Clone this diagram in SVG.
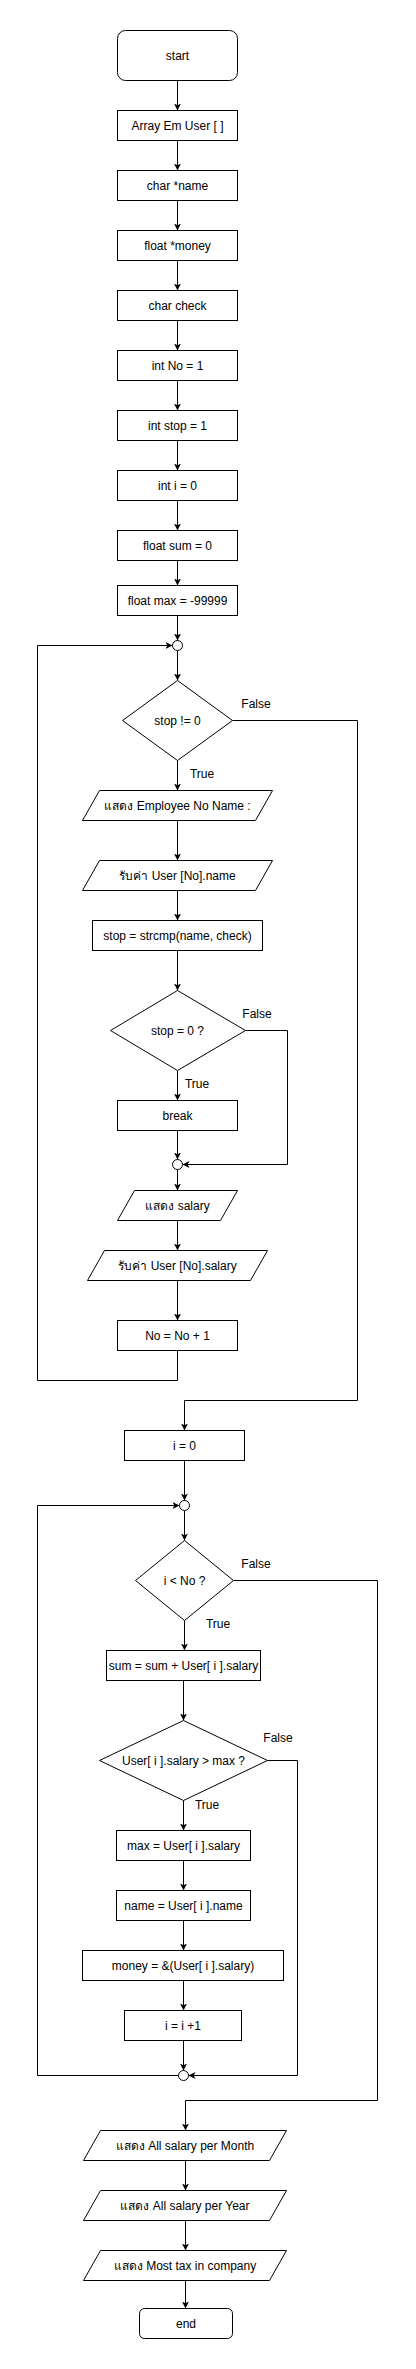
<svg xmlns="http://www.w3.org/2000/svg" width="416" height="2369" viewBox="0 0 416 2369">
<style>
.n{fill:#fff;stroke:#000;stroke-width:1}
.t{font-family:"Liberation Sans",Arial,sans-serif;font-size:12px;fill:#000;text-anchor:middle}
.c{fill:none;stroke:#000;stroke-width:1}
.a{fill:none;stroke:#000;stroke-width:1;marker-end:url(#arr)}
</style>
<defs>
<marker id="arr" markerUnits="userSpaceOnUse" markerWidth="8" markerHeight="8" refX="7" refY="3.5" orient="auto">
<path d="M0,0 L7,3.5 L0,7 L1.8,3.5 z" fill="#000"/>
</marker>
</defs>
<rect width="416" height="2369" fill="#fff"/>
<g id="connectors">
<path class="a" d="M177.5,80.5 V110.5"/>
<path class="a" d="M177.5,140.5 V170.5"/>
<path class="a" d="M177.5,200.5 V230.5"/>
<path class="a" d="M177.5,260.5 V290.5"/>
<path class="a" d="M177.5,320.5 V350.5"/>
<path class="a" d="M177.5,380.5 V410.5"/>
<path class="a" d="M177.5,440.5 V470.5"/>
<path class="a" d="M177.5,500.5 V530.5"/>
<path class="a" d="M177.5,560.5 V585.5"/>
<path class="a" d="M177.5,615.5 V640.5"/>
<path class="a" d="M177.5,650.5 V680.5"/>
<path class="a" d="M177.5,760.5 V790.5"/>
<path class="a" d="M177.5,820.5 V860.5"/>
<path class="a" d="M177.5,890.5 V920.5"/>
<path class="a" d="M177.5,950.5 V990.5"/>
<path class="a" d="M177.5,1070.5 V1100.5"/>
<path class="a" d="M177.5,1130.5 V1159.5"/>
<path class="a" d="M177.5,1169.5 V1190.5"/>
<path class="a" d="M177.5,1220.5 V1250.5"/>
<path class="a" d="M177.5,1280.5 V1320.5"/>
<path class="a" d="M177.5,1350.5 V1380.5 H37.5 V645.5 H172.5"/>
<path class="a" d="M232.5,720.5 H357.5 V1400.5 H184.5 V1430.5"/>
<path class="a" d="M245.5,1030.5 H287.5 V1164.5 H182.5"/>
<path class="a" d="M184.5,1460.5 V1500.5"/>
<path class="a" d="M184.5,1510.5 V1540.5"/>
<path class="a" d="M184.5,1620.5 V1650.5"/>
<path class="a" d="M183.5,1680.5 V1720.5"/>
<path class="a" d="M183.5,1800.5 V1830.5"/>
<path class="a" d="M183.5,1860.5 V1890.5"/>
<path class="a" d="M183.5,1920.5 V1950.5"/>
<path class="a" d="M183.5,1980.5 V2010.5"/>
<path class="a" d="M183.5,2040.5 V2070.5"/>
<path class="a" d="M178.5,2075.5 H37.5 V1505.5 H179.5"/>
<path class="a" d="M267.5,1760.5 H297.5 V2075.5 H188.5"/>
<path class="a" d="M233.5,1580.5 H377.5 V2100.5 H185.5 V2130.5"/>
<path class="a" d="M185.5,2160.5 V2190.5"/>
<path class="a" d="M185.5,2220.5 V2250.5"/>
<path class="a" d="M185.5,2280.5 V2308.5"/>
<text class="t" x="256" y="708">False</text>
<text class="t" x="202" y="778">True</text>
<text class="t" x="257" y="1018">False</text>
<text class="t" x="197" y="1088">True</text>
<text class="t" x="256" y="1568">False</text>
<text class="t" x="218" y="1628">True</text>
<text class="t" x="278" y="1742">False</text>
<text class="t" x="207" y="1809">True</text>
</g>
<g id="start"><rect class="n" x="117.5" y="30.5" width="120" height="50" rx="8"/><text class="t" x="177.5" y="59.5">start</text></g>
<g id="array"><rect class="n" x="117.5" y="110.5" width="120" height="30"/><text class="t" x="177.5" y="129.5">Array Em User [ ]</text></g>
<g id="charname"><rect class="n" x="117.5" y="170.5" width="120" height="30"/><text class="t" x="177.5" y="189.5">char *name</text></g>
<g id="floatmoney"><rect class="n" x="117.5" y="230.5" width="120" height="30"/><text class="t" x="177.5" y="249.5">float *money</text></g>
<g id="charcheck"><rect class="n" x="117.5" y="290.5" width="120" height="30"/><text class="t" x="177.5" y="309.5">char check</text></g>
<g id="intno"><rect class="n" x="117.5" y="350.5" width="120" height="30"/><text class="t" x="177.5" y="369.5">int No = 1</text></g>
<g id="intstop"><rect class="n" x="117.5" y="410.5" width="120" height="30"/><text class="t" x="177.5" y="429.5">int stop = 1</text></g>
<g id="inti"><rect class="n" x="117.5" y="470.5" width="120" height="30"/><text class="t" x="177.5" y="489.5">int i = 0</text></g>
<g id="floatsum"><rect class="n" x="117.5" y="530.5" width="120" height="30"/><text class="t" x="177.5" y="549.5">float sum = 0</text></g>
<g id="floatmax"><rect class="n" x="117.5" y="585.5" width="120" height="30"/><text class="t" x="177.5" y="604.5">float max = -99999</text></g>
<g id="merge1"><circle class="n" cx="177.5" cy="645.5" r="5"/></g>
<g id="cond1"><path class="n" d="M177.5,680.5 L232.5,720.5 L177.5,760.5 L122.5,720.5 Z"/><text class="t" x="177.5" y="724.5">stop != 0</text></g>
<g id="showname"><path class="n" d="M99.5,790.5 H272.5 L255.5,820.5 H82.5 Z"/><text class="t" x="177.5" y="809.5">แสดง Employee No Name :</text></g>
<g id="inputname"><path class="n" d="M99.5,860.5 H272.5 L255.5,890.5 H82.5 Z"/><text class="t" x="177.5" y="879.5">รับค่า User [No].name</text></g>
<g id="strcmp"><rect class="n" x="92.5" y="920.5" width="170" height="30"/><text class="t" x="177.5" y="939.5">stop = strcmp(name, check)</text></g>
<g id="cond2"><path class="n" d="M177.5,990.5 L245.5,1030.5 L177.5,1070.5 L110.5,1030.5 Z"/><text class="t" x="177.5" y="1034.5">stop = 0 ?</text></g>
<g id="break"><rect class="n" x="117.5" y="1100.5" width="120" height="30"/><text class="t" x="177.5" y="1119.5">break</text></g>
<g id="merge2"><circle class="n" cx="177.5" cy="1164.5" r="5"/></g>
<g id="showsalary"><path class="n" d="M134.5,1190.5 H237.5 L220.5,1220.5 H117.5 Z"/><text class="t" x="177.5" y="1209.5">แสดง salary</text></g>
<g id="inputsalary"><path class="n" d="M104.5,1250.5 H267.5 L250.5,1280.5 H87.5 Z"/><text class="t" x="177.5" y="1269.5">รับค่า User [No].salary</text></g>
<g id="noinc"><rect class="n" x="117.5" y="1320.5" width="120" height="30"/><text class="t" x="177.5" y="1339.5">No = No + 1</text></g>
<g id="iset"><rect class="n" x="124.5" y="1430.5" width="120" height="30"/><text class="t" x="184.5" y="1449.5">i = 0</text></g>
<g id="merge3"><circle class="n" cx="184.5" cy="1505.5" r="5"/></g>
<g id="cond3"><path class="n" d="M184.5,1540.5 L233.5,1580.5 L184.5,1620.5 L135.5,1580.5 Z"/><text class="t" x="184.5" y="1584.5">i &lt; No ?</text></g>
<g id="sum"><rect class="n" x="106.5" y="1650.5" width="154" height="30"/><text class="t" x="183.5" y="1669.5">sum = sum + User[ i ].salary</text></g>
<g id="cond4"><path class="n" d="M183.5,1720.5 L267.5,1760.5 L183.5,1800.5 L99.5,1760.5 Z"/><text class="t" x="183.5" y="1764.5">User[ i ].salary &gt; max ?</text></g>
<g id="maxset"><rect class="n" x="116.5" y="1830.5" width="134" height="30"/><text class="t" x="183.5" y="1849.5">max = User[ i ].salary</text></g>
<g id="nameset"><rect class="n" x="116.5" y="1890.5" width="134" height="30"/><text class="t" x="183.5" y="1909.5">name = User[ i ].name</text></g>
<g id="moneyset"><rect class="n" x="82.5" y="1950.5" width="201" height="30"/><text class="t" x="183" y="1969.5">money = &amp;(User[ i ].salary)</text></g>
<g id="iinc"><rect class="n" x="124.5" y="2010.5" width="117" height="30"/><text class="t" x="183" y="2029.5">i = i +1</text></g>
<g id="merge4"><circle class="n" cx="183.5" cy="2075.5" r="5"/></g>
<g id="showmonth"><path class="n" d="M100.5,2130.5 H286.5 L269.5,2160.5 H83.5 Z"/><text class="t" x="185" y="2149.5">แสดง All salary per Month</text></g>
<g id="showyear"><path class="n" d="M100.5,2190.5 H286.5 L269.5,2220.5 H83.5 Z"/><text class="t" x="185" y="2209.5">แสดง All salary per Year</text></g>
<g id="showtax"><path class="n" d="M100.5,2250.5 H286.5 L269.5,2280.5 H83.5 Z"/><text class="t" x="185" y="2269.5">แสดง Most tax in company</text></g>
<g id="end"><rect class="n" x="139.5" y="2308.5" width="93" height="30" rx="5"/><text class="t" x="186" y="2327.5">end</text></g>
</svg>
